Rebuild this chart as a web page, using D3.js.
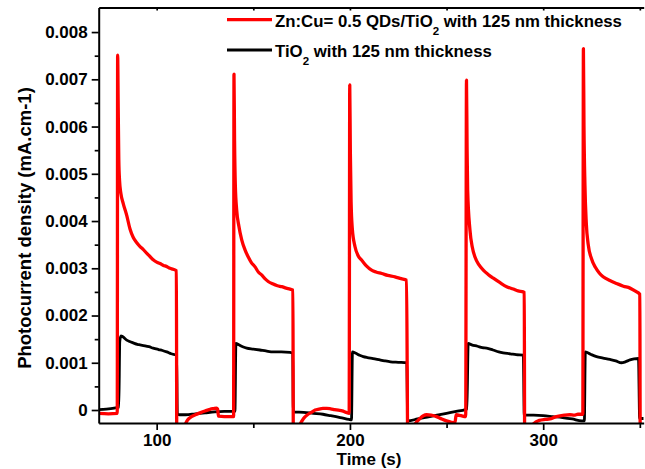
<!DOCTYPE html>
<html>
<head>
<meta charset="utf-8">
<script src="https://cdn.jsdelivr.net/npm/d3@7"></script>
<style>
  body { margin: 0; background: #fff; }
  text { font-family: Arial, "Liberation Sans", sans-serif; font-weight: bold; fill: #000; white-space: pre; }
</style>
</head>
<body>
<div class="container"></div>
<script>
// values in units of 0.001 mA.cm-1
const redPoints = [
  [70, -0.07], [75, -0.08], [79.6, -0.07],
  [79.8, 7.51], [80.1, 6.4], [80.4, 5.3], [80.8, 4.85], [81.5, 4.58], [82.7, 4.37], [84.5, 4.12], [86.2, 3.83],
  [87.9, 3.65], [89.5, 3.55], [91.4, 3.46], [93, 3.4], [94.8, 3.32], [96.5, 3.25], [98.2, 3.18], [100, 3.13],
  [101.7, 3.1], [103.5, 3.06], [105, 3.04], [106.9, 3.0], [108.5, 2.98], [110.2, 2.95],
  [110.4, -0.6], [114.2, -0.35], [116, -0.21], [118, -0.14], [120, -0.1], [122.4, -0.06], [125, -0.02],
  [127.6, 0.015], [129.5, 0.03], [131.0, 0.04], [131.5, 0.02], [132.0, -0.13], [135, -0.14], [139.8, -0.14],
  [140.0, 7.11], [140.3, 5.7], [140.7, 4.75], [141.4, 4.23], [142.5, 3.9], [144.0, 3.6], [145.7, 3.39],
  [147.4, 3.24], [149, 3.12], [150.9, 3.03], [152.6, 2.92], [154.3, 2.86], [156, 2.78], [157.7, 2.72],
  [160, 2.67], [162.5, 2.63], [164.7, 2.61], [167, 2.58], [169, 2.56], [170.5, 2.54],
  [170.7, -0.6], [174.2, -0.3], [176, -0.18], [178, -0.1], [180, -0.05], [182, 0.0], [184, 0.02], [186, 0.035],
  [188, 0.035], [190, 0.025], [192, 0.01], [194, -0.005], [196, -0.02], [198, -0.05], [199.6, -0.07],
  [199.9, 6.88], [200.2, 5.5], [200.6, 4.4], [201.2, 3.85], [202.6, 3.46], [204.3, 3.26], [206.1, 3.17],
  [208.5, 3.05], [211.2, 2.96], [213.5, 2.92], [216.4, 2.89], [219.5, 2.85], [223.3, 2.82], [226.5, 2.78], [229.3, 2.75],
  [229.9, -0.6], [233.6, -0.3], [236.2, -0.18], [238, -0.12], [239.7, -0.1], [242, -0.11], [244.8, -0.14],
  [247.5, -0.19], [250, -0.23], [252.5, -0.26], [254.3, -0.27], [255.0, -0.1], [257.5, -0.12], [259.9, -0.14],
  [260.3, 6.98], [260.6, 5.6], [260.9, 4.66], [262.1, 3.81], [263.3, 3.45], [264.7, 3.24], [266.8, 3.07],
  [269.0, 2.96], [271.5, 2.87], [274.2, 2.79], [277.5, 2.7], [281.1, 2.61], [284.5, 2.56], [287, 2.52], [289.7, 2.5], [290.2, 2.49],
  [290.4, -0.6], [294.8, -0.3], [298, -0.22], [301, -0.2], [303.5, -0.19], [306, -0.15], [308, -0.13],
  [311, -0.11], [313.8, -0.1], [316, -0.11], [318, -0.09], [320.5, -0.09],
  [320.8, 7.65], [321.1, 6.0], [321.6, 4.75], [322.3, 3.95], [323.3, 3.5], [325.0, 3.2], [327, 3.02], [329, 2.9],
  [331.0, 2.82], [334.5, 2.74], [337.9, 2.68], [341.5, 2.62], [344.9, 2.58], [347.5, 2.52], [350.0, 2.45],
  [350.2, -0.6], [352, -0.6]
];

const blackPoints = [
  [70, 0.01], [74, 0.02], [78, 0.04], [80.4, 0.06],
  [80.9, 1.45], [81.5, 1.57], [82.5, 1.55], [84.5, 1.48], [86, 1.45], [87.9, 1.42], [90, 1.39], [91.4, 1.38],
  [94, 1.36], [96, 1.34], [98.2, 1.31], [101, 1.28], [103, 1.26], [105.2, 1.23], [107.5, 1.19], [110.3, 1.16],
  [110.7, -0.08], [112, -0.1], [115, -0.1], [120, -0.08], [125, -0.06], [130, -0.04], [135, -0.03], [140.5, -0.03],
  [141.0, 1.41], [142.5, 1.38], [144.5, 1.34], [146.6, 1.31], [150, 1.29], [153.4, 1.27], [156.5, 1.25],
  [160.3, 1.23], [164.5, 1.23], [169, 1.22], [170.4, 1.2],
  [170.7, -0.04], [176, -0.05], [181, -0.07], [186, -0.09], [190, -0.12], [195, -0.16], [199.5, -0.2], [200.8, -0.21],
  [201.3, 1.23], [203, 1.2], [205, 1.16], [206.9, 1.13], [209, 1.11], [212, 1.09], [215.5, 1.06], [218, 1.04],
  [221, 1.02], [225, 1.01], [229.4, 1.0],
  [229.9, -0.23], [235, -0.19], [240, -0.15], [245, -0.11], [250, -0.07], [255, -0.03], [259.7, 0.01], [260.5, 0.02],
  [261.2, 1.41], [263, 1.38], [266, 1.35], [268.5, 1.32], [270.7, 1.31], [274, 1.27], [277, 1.23], [279.3, 1.21],
  [283, 1.19], [286, 1.17], [289.7, 1.16],
  [290.2, -0.11], [295, -0.11], [300, -0.12], [305, -0.14], [310, -0.16], [315, -0.19], [319.9, -0.23], [321.3, -0.23],
  [321.8, 1.23], [324.5, 1.18], [327.6, 1.13], [331, 1.1], [334.5, 1.07], [337.5, 1.04], [340.5, 1.0],
  [342.5, 1.02], [344.9, 1.06], [347, 1.08], [349.3, 1.09],
  [349.9, -0.18], [352, -0.18]
];

const yTicks = [0, 0.001, 0.002, 0.003, 0.004, 0.005, 0.006, 0.007, 0.008];
const yTickLabels = ["0", "0.001", "0.002", "0.003", "0.004", "0.005", "0.006", "0.007", "0.008"];
const yMinorTicks = [0.0005, 0.0015, 0.0025, 0.0035, 0.0045, 0.0055, 0.0065, 0.0075];
const xTicks = [100, 200, 300];
const xMinorTicks = [150, 250, 350];
const topTicks = [100, 150, 200, 250, 300, 350];

const seriesNames = ["Zn:Cu= 0.5 QDs/TiO", "TiO"];

const W = 645, H = 469;
const plotLeft = 98.7, plotRight = 643.7, plotTop = 7.5, plotBottom = 423;

const x = d3.scaleLinear().domain([70, 352]).range([plotLeft, plotRight]);
const y = d3.scaleLinear().domain([-0.000275, 0.00852]).range([plotBottom, plotTop]);

const svg = d3.select(".container")
  .append("svg")
  .attr("width", W)
  .attr("height", H);

svg.append("defs").append("clipPath").attr("id", "plot")
  .append("rect")
  .attr("x", plotLeft).attr("y", plotTop)
  .attr("width", plotRight - plotLeft).attr("height", plotBottom - plotTop);

const line = d3.line()
  .curve(d3.curveMonotoneX)
  .x(d => x(d[0]))
  .y(d => y(d[1] / 1000));

svg.append("path")
  .datum(blackPoints)
  .attr("clip-path", "url(#plot)")
  .attr("fill", "none")
  .attr("stroke", "#000")
  .attr("stroke-width", 2.8)
  .attr("stroke-linejoin", "round")
  .attr("d", line);

svg.append("path")
  .datum(redPoints)
  .attr("clip-path", "url(#plot)")
  .attr("fill", "none")
  .attr("stroke", "#ff0000")
  .attr("stroke-width", 3.3)
  .attr("stroke-linejoin", "round")
  .attr("d", line);

// axes
svg.append("g")
  .attr("transform", `translate(${plotLeft},0)`)
  .call(d3.axisLeft(y).tickValues(yTicks).tickFormat((d, i) => yTickLabels[i])
    .tickSize(7).tickSizeOuter(0).tickPadding(4));

svg.append("g")
  .attr("transform", `translate(${plotLeft},0)`)
  .call(d3.axisLeft(y).tickValues(yMinorTicks).tickFormat("").tickSize(4).tickSizeOuter(0))
  .select(".domain").remove();

svg.append("g")
  .attr("transform", `translate(0,${plotBottom})`)
  .call(d3.axisBottom(x).tickValues(xTicks).tickFormat(d3.format("d"))
    .tickSize(7).tickSizeOuter(0).tickPadding(4));

svg.append("g")
  .attr("transform", `translate(0,${plotBottom})`)
  .call(d3.axisBottom(x).tickValues(xMinorTicks).tickFormat("").tickSize(5).tickSizeOuter(0))
  .select(".domain").remove();

svg.append("g")
  .attr("transform", `translate(0,${plotTop})`)
  .call(d3.axisTop(x).tickValues(topTicks).tickFormat("").tickSize(-3).tickSizeOuter(0));

svg.selectAll(".domain").attr("stroke", "#000").attr("stroke-width", 2);
svg.selectAll(".tick line").attr("stroke", "#000").attr("stroke-width", 1.7);
svg.selectAll(".tick text")
  .attr("font-family", null)
  .style("font-size", "17px")
  .style("font-weight", "bold");

// axis titles
svg.append("text")
  .attr("x", 369)
  .attr("y", 464.5)
  .attr("text-anchor", "middle")
  .style("font-size", "17px")
  .text("Time (s)");

svg.append("text")
  .attr("transform", "translate(31,228) rotate(-90)")
  .attr("text-anchor", "middle")
  .style("font-size", "18.5px")
  .text("Photocurrent density (mA.cm-1)");

// legend
const legendRows = [
  { name: seriesNames[0], color: "#ff0000", ly: 19.7, ty: 26.7 },
  { name: seriesNames[1], color: "#000", ly: 50, ty: 56.7 }
];

const legend = svg.append("g");
legendRows.forEach(r => {
  legend.append("line")
    .attr("x1", 227).attr("x2", 272)
    .attr("y1", r.ly).attr("y2", r.ly)
    .attr("stroke", r.color)
    .attr("stroke-width", r.color === "#000" ? 2.8 : 3.3);
  const t = legend.append("text")
    .attr("x", 275)
    .attr("y", r.ty)
    .style("font-size", "16.8px");
  t.append("tspan").text(r.name);
  t.append("tspan").attr("dy", 8.5).style("font-size", "11.5px").text("2");
  t.append("tspan").attr("dy", -8.5).text(" with 125 nm thickness");
});
</script>
</body>
</html>
